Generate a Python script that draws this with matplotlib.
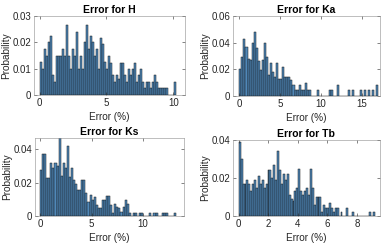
import numpy as np
import matplotlib
matplotlib.use("Agg")
import matplotlib.pyplot as plt
from matplotlib.ticker import FuncFormatter

plt.rcParams['font.family'] = ['Liberation Sans', 'DejaVu Sans']

titles = ["Error for H", "Error for Ka", "Error for Ks", "Error for Tb"]

h_binw = 0.15
h_prob = [0.0125, 0.010, 0.0175, 0.015, 0.020, 0.0225, 0.0075, 0.005, 0.015, 0.015,
          0.015, 0.0175, 0.015, 0.0265, 0.015, 0.010, 0.0175, 0.015, 0.024, 0.010,
          0.015, 0.010, 0.020, 0.0265, 0.0175, 0.0225, 0.020, 0.015, 0.0175, 0.010,
          0.0215, 0.0195, 0.0125, 0.010, 0.015, 0.012, 0.0075, 0.005, 0.0075, 0.006,
          0.012, 0.012, 0.0075, 0.005, 0.010, 0.0075, 0.010, 0.012, 0.005, 0.0075,
          0.010, 0.005, 0.0025, 0.005, 0.005, 0.0025, 0.005, 0.0075, 0.005, 0.0025,
          0.0025, 0.0025, 0.0025, 0.0025, 0.0, 0.0, 0.0, 0.005]

ka_binw = 0.25
ka_prob = [0.020, 0.0295, 0.043, 0.037, 0.028, 0.027, 0.0395, 0.048, 0.036, 0.026,
           0.0195, 0.027, 0.0395, 0.0295, 0.016, 0.0245, 0.018, 0.0145, 0.0245, 0.013,
           0.013, 0.022, 0.0145, 0.0145, 0.0145, 0.012, 0.008, 0.0045, 0.0045, 0.008,
           0.0045, 0.0045, 0.010, 0.0045, 0.0045, 0.0, 0.0, 0.0, 0.0045, 0.0,
           0.0, 0.0, 0.0, 0.0, 0.0045, 0.0045, 0.0, 0.0, 0.008, 0.0,
           0.0, 0.0, 0.0, 0.0045, 0.0, 0.0045, 0.0, 0.0, 0.0, 0.0045,
           0.0, 0.0045, 0.0, 0.0045, 0.0, 0.0045, 0.0, 0.008]

ks_binw = 0.2
ks_prob = [0.0275, 0.037, 0.037, 0.0225, 0.0225, 0.032, 0.029, 0.032, 0.030, 0.047,
           0.024, 0.032, 0.029, 0.042, 0.0235, 0.029, 0.0215, 0.019, 0.0155, 0.0155,
           0.0215, 0.0215, 0.0135, 0.0085, 0.0125, 0.0095, 0.0115, 0.0065, 0.0045, 0.0045,
           0.0095, 0.0095, 0.012, 0.012, 0.0065, 0.002, 0.007, 0.0055, 0.0045, 0.0025,
           0.0055, 0.0095, 0.007, 0.002, 0.0, 0.002, 0.002, 0.0, 0.002, 0.002,
           0.0, 0.0, 0.0, 0.002, 0.0, 0.002, 0.002, 0.0, 0.0, 0.002,
           0.002, 0.002, 0.0, 0.0, 0.0, 0.002]

tb_binw = 0.13
tb_prob = [0.039, 0.030, 0.017, 0.017, 0.019, 0.017, 0.013, 0.017, 0.019, 0.015,
           0.021, 0.017, 0.019, 0.015, 0.017, 0.024, 0.024, 0.020, 0.027, 0.019,
           0.034, 0.024, 0.017, 0.022, 0.019, 0.022, 0.011, 0.009, 0.008, 0.013,
           0.015, 0.025, 0.013, 0.011, 0.013, 0.015, 0.011, 0.025, 0.015, 0.006,
           0.010, 0.010, 0.010, 0.002, 0.006, 0.004, 0.004, 0.007, 0.004, 0.002,
           0.004, 0.004, 0.0, 0.002, 0.0, 0.0, 0.004, 0.0, 0.0, 0.002,
           0.0, 0.0, 0.0, 0.0, 0.0, 0.0, 0.0, 0.0, 0.002, 0.0, 0.002]

x_ticks = [[0, 5, 10], [0, 5, 10, 15], [0, 5, 10], [0, 2, 4, 6, 8]]
y_ticks = [[0, 0.01, 0.02, 0.03], [0, 0.02, 0.04, 0.06], [0, 0.02, 0.04], [0, 0.02, 0.04]]
x_lims = [(-0.43, 10.87), (-0.8, 17.2), (-0.48, 13.97), (-0.4, 9.55)]
y_lims = [(0, 0.03), (0, 0.06), (0, 0.0467), (0, 0.04)]

data = [(h_prob, h_binw), (ka_prob, ka_binw), (ks_prob, ks_binw), (tb_prob, tb_binw)]
rects = [[0.087, 0.62, 0.387, 0.316], [0.597, 0.616, 0.377, 0.32],
         [0.09, 0.136, 0.382, 0.312], [0.597, 0.136, 0.377, 0.304]]

fig = plt.figure(figsize=(3.9, 2.5), dpi=100)
fmt = FuncFormatter(lambda v, p: '0' if v == 0 else ('%g' % v))
axcol = '#262626'
for i in range(4):
    ax = fig.add_axes(rects[i])
    prob, bw = data[i]
    edges = np.arange(len(prob)) * bw
    ax.bar(edges, prob, width=bw, align='edge', color='#4682b4',
           edgecolor='#111111', linewidth=0.35, alpha=0.95)
    ax.set_xlim(*x_lims[i])
    ax.set_ylim(*y_lims[i])
    ax.set_xticks(x_ticks[i])
    ax.set_yticks(y_ticks[i])
    ax.yaxis.set_major_formatter(fmt)
    ax.tick_params(direction='in', length=2, width=0.4, labelsize=7,
                   top=True, right=True, colors=axcol, pad=2)
    for s in ax.spines.values():
        s.set_linewidth(0.4)
        s.set_color('#8c8c8c')
    ax.set_title(titles[i], fontsize=7.5, fontweight='bold', pad=2)
    ax.set_xlabel('Error (%)', fontsize=7.2, labelpad=3, color=axcol)
    ax.set_ylabel('Probability', fontsize=7.2, labelpad=1, color=axcol)

fig.savefig('out.png', dpi=100)
